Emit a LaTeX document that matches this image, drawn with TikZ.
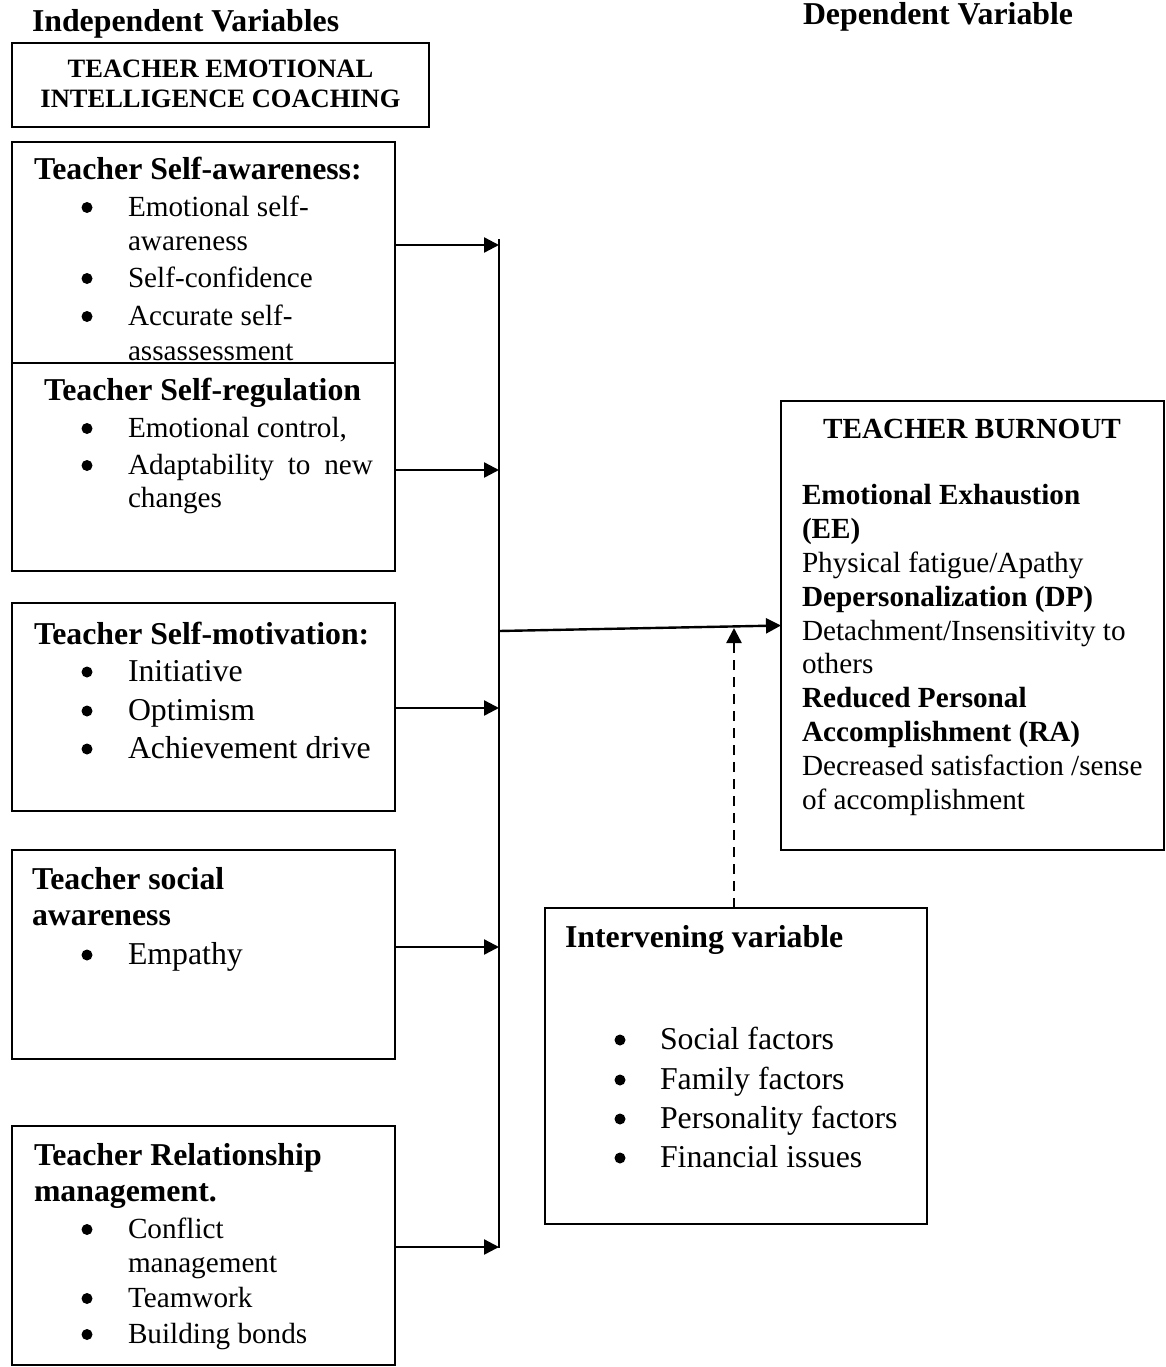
\documentclass[tikz,border=0pt]{standalone}
\usepackage{fontspec}
\setmainfont{Liberation Serif}
\usetikzlibrary{arrows.meta}
\newcommand{\fA}{\fontsize{31.8}{36}\selectfont}
\newcommand{\fB}{\fontsize{29.2}{34}\selectfont}
\newcommand{\fC}{\fontsize{26.5}{30}\selectfont}
\begin{document}
\begin{tikzpicture}[x=1pt,y=-1pt,
  boxnode/.style={draw, line width=1.5pt, fill=white, rectangle, anchor=north west, inner sep=0pt, outer sep=0pt},
  txt/.style={anchor=base west, inner sep=0pt, outer sep=0pt},
  ctxt/.style={anchor=base, inner sep=0pt, outer sep=0pt},
  arr/.style={line width=2.4pt, -{Triangle[length=15pt,width=15pt]}},
  darr/.style={line width=2.4pt, dash pattern=on 10pt off 7pt, -{Triangle[length=15pt,width=15pt]}},
  bul/.style={fill=black}
]
\useasboundingbox (0,0) rectangle (1165,1367);

% headings
\node[txt,font=\fA\bfseries] (hind) at (32,32) {Independent Variables};
\node[txt,font=\fA\bfseries] (hdep) at (803,25) {Dependent Variable};

% box 1
\node[boxnode, minimum width=417pt, minimum height=84pt] (b1) at (12,43) {};
\node[ctxt,font=\fC\bfseries] (b1a) at (220.5,78) {TEACHER EMOTIONAL};
\node[ctxt,font=\fC\bfseries] (b1b) at (220.5,108) {INTELLIGENCE COACHING};

% box 2
\node[boxnode, minimum width=383pt, minimum height=241pt] (b2) at (12,142) {};
\node[txt,font=\fA\bfseries] (b2h) at (34,180) {Teacher Self-awareness:};
\node[txt,font=\fB] (b2a) at (128,216) {Emotional self-};
\node[txt,font=\fB] (b2b) at (128,250) {awareness};
\node[txt,font=\fB] (b2c) at (128,287) {Self-confidence};
\node[txt,font=\fB] (b2d) at (128,325) {Accurate self-};
\node[txt,font=\fB] (b2e) at (128,360) {assassessment};
\foreach \yy in {216,287,325} \fill[bul] (87,\yy-8.5) circle (5.5);

% box 3
\node[boxnode, minimum width=383pt, minimum height=208pt] (b3) at (12,363) {};
\node[txt,font=\fA\bfseries] (b3h) at (44,400) {Teacher Self-regulation};
\node[txt,font=\fB] (b3a) at (128,437) {Emotional control,};
\node[txt,font=\fB] (b3b) at (128,474) {\hbox to 245pt{Adaptability\hfill to\hfill new}};
\node[txt,font=\fB] (b3c) at (128,507) {changes};
\foreach \yy in {437,474} \fill[bul] (87,\yy-8.5) circle (5.5);

% box 4
\node[boxnode, minimum width=383pt, minimum height=208pt] (b4) at (12,603) {};
\node[txt,font=\fA\bfseries] (b4h) at (34,644) {Teacher Self-motivation:};
\node[txt,font=\fA] (b4a) at (128,681) {Initiative};
\node[txt,font=\fA] (b4b) at (128,720) {Optimism};
\node[txt,font=\fA] (b4c) at (128,758) {Achievement drive};
\foreach \yy in {681,720,758} \fill[bul] (87,\yy-9) circle (5.5);

% box 5
\node[boxnode, minimum width=383pt, minimum height=209pt] (b5) at (12,850) {};
\node[txt,font=\fA\bfseries] (b5h) at (32,889) {Teacher social};
\node[txt,font=\fA\bfseries] (b5i) at (32,925) {awareness};
\node[txt,font=\fA] (b5a) at (128,964) {Empathy};
\fill[bul] (87,964-9) circle (5.5);

% box 6
\node[boxnode, minimum width=383pt, minimum height=239pt] (b6) at (12,1126) {};
\node[txt,font=\fA\bfseries] (b6h) at (34,1165) {Teacher Relationship};
\node[txt,font=\fA\bfseries] (b6i) at (34,1201) {management.};
\node[txt,font=\fB] (b6a) at (128,1238) {Conflict};
\node[txt,font=\fB] (b6b) at (128,1272) {management};
\node[txt,font=\fB] (b6c) at (128,1307) {Teamwork};
\node[txt,font=\fB] (b6d) at (128,1343) {Building bonds};
\foreach \yy in {1238,1307,1343} \fill[bul] (87,\yy-8.5) circle (5.5);

% teacher burnout
\node[boxnode, minimum width=383pt, minimum height=449pt] (tb) at (781,401) {};
\node[ctxt,font=\fB\bfseries] (tbh) at (972,438) {TEACHER BURNOUT};
\node[txt,font=\fB\bfseries] (tb1) at (802,504) {Emotional Exhaustion};
\node[txt,font=\fB\bfseries] (tb2) at (802,538) {(EE)};
\node[txt,font=\fB] (tb3) at (802,572) {Physical fatigue/Apathy};
\node[txt,font=\fB\bfseries] (tb4) at (802,606) {Depersonalization (DP)};
\node[txt,font=\fB] (tb5) at (802,640) {Detachment/Insensitivity to};
\node[txt,font=\fB] (tb6) at (802,673) {others};
\node[txt,font=\fB\bfseries] (tb7) at (802,707) {Reduced Personal};
\node[txt,font=\fB\bfseries] (tb8) at (802,741) {Accomplishment (RA)};
\node[txt,font=\fB] (tb9) at (802,775) {Decreased satisfaction /sense};
\node[txt,font=\fB] (tb10) at (802,809) {of accomplishment};

% intervening variable
\node[boxnode, minimum width=382pt, minimum height=316pt] (iv) at (545,908) {};
\node[txt,font=\fA\bfseries] (ivh) at (565,947) {Intervening variable};
\node[txt,font=\fA] (iv1) at (660,1049) {Social factors};
\node[txt,font=\fA] (iv2) at (660,1089) {Family factors};
\node[txt,font=\fA] (iv3) at (660,1128) {Personality factors};
\node[txt,font=\fA] (iv4) at (660,1167) {Financial issues};
\foreach \yy in {1049,1089,1128,1167} \fill[bul] (620,\yy-9) circle (5.5);

% connectors
\coordinate (bt) at (499,239);
\coordinate (bb) at (499,1248);
\draw[line width=1.8pt] (bt) -- (bb);
\coordinate (j1) at (499,245);
\coordinate (j2) at (499,470);
\coordinate (j3) at (499,708);
\coordinate (j4) at (499,947);
\coordinate (j5) at (499,1247);
\draw[arr] (b2.east |- j1) -- (j1);
\draw[arr] (b3.east |- j2) -- (j2);
\draw[arr] (b4.east |- j3) -- (j3);
\draw[arr] (b5.east |- j4) -- (j4);
\draw[arr] (b6.east |- j5) -- (j5);
\coordinate (jm) at (499,631);
\draw[arr] (jm) -- (tb.west);
\coordinate (dtip) at (734,628);
\draw[darr] (dtip |- iv.north) -- (dtip);
\end{tikzpicture}
\end{document}
